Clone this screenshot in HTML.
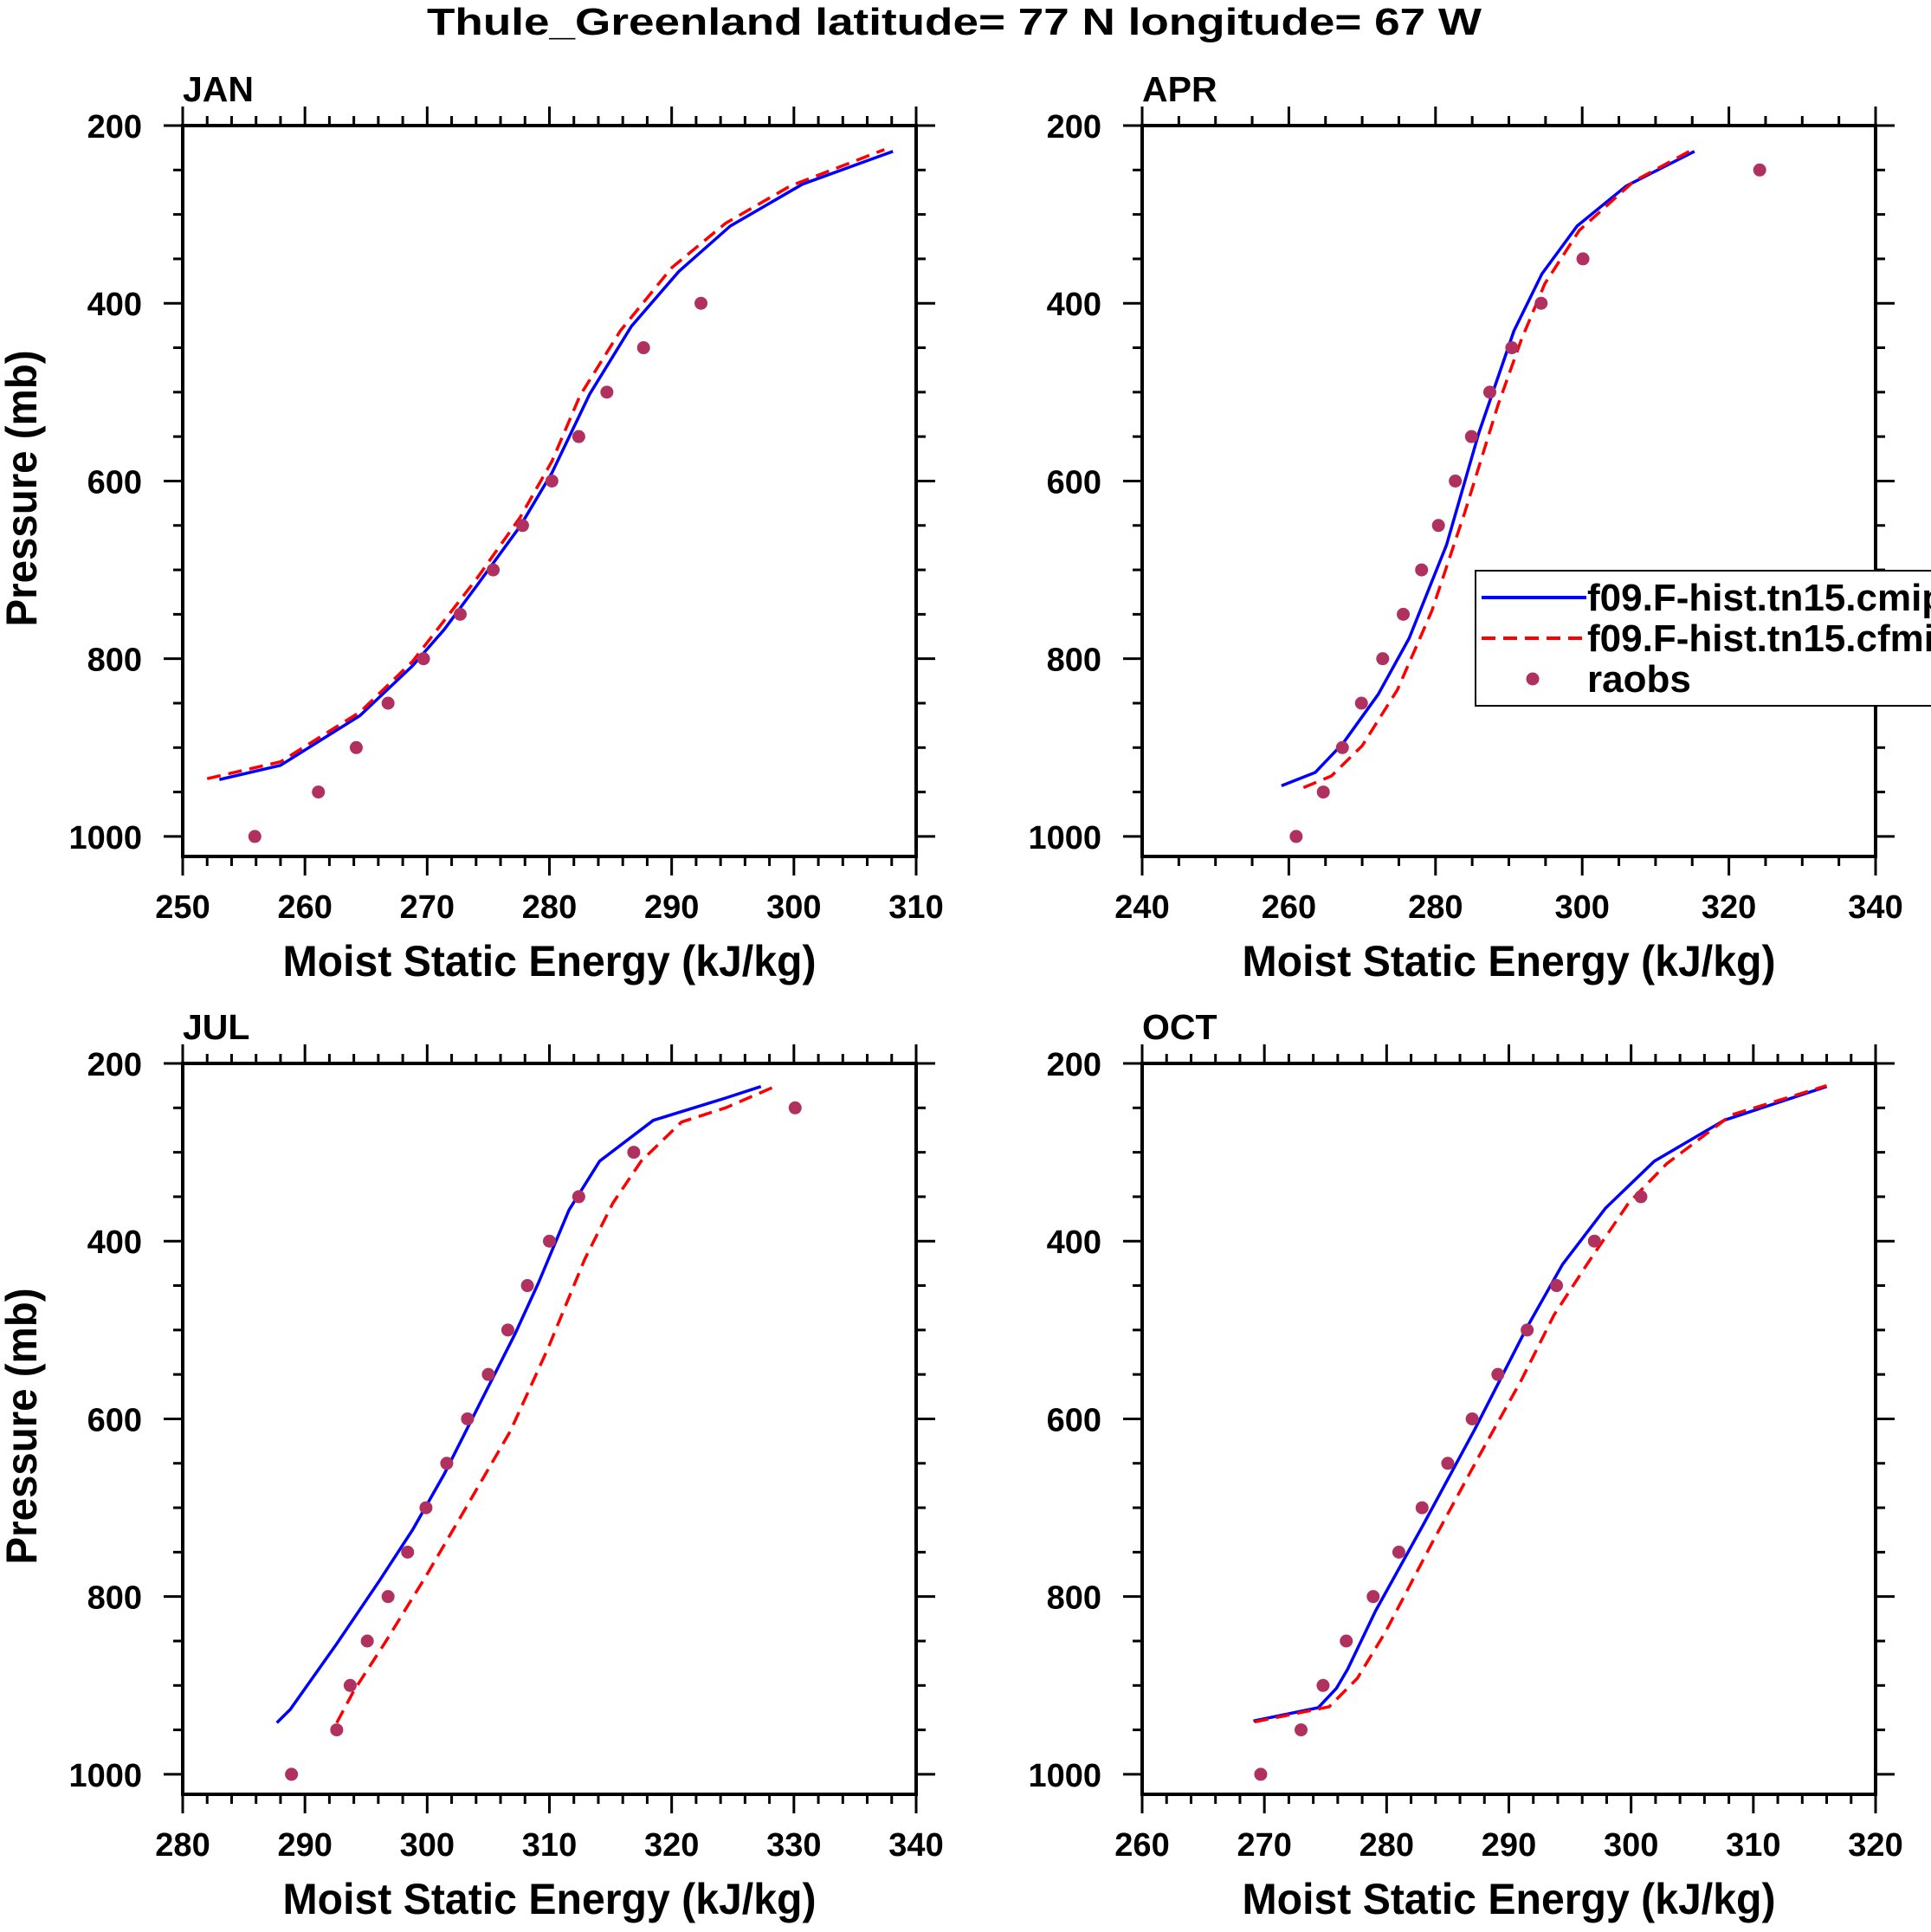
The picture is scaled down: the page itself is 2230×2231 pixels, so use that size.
<!DOCTYPE html>
<html><head><meta charset="utf-8"><style>
html,body{margin:0;padding:0;background:#fff;}
svg{display:block;font-family:"Liberation Sans",sans-serif;font-weight:bold;}
</style></head><body>
<svg id="c" width="2230" height="2231" viewBox="0 0 2230 2231" xmlns="http://www.w3.org/2000/svg">
<text x="1102" y="40" font-size="44" text-anchor="middle" textLength="1218" lengthAdjust="spacingAndGlyphs">Thule_Greenland  latitude= 77 N longitude= 67 W</text>
</svg>
<script>
// JAN data
const janBlueX=[253.0,258.0,264.5,268.8,271.4,274.1,277.6,280.2,283.3,286.7,290.6,294.8,300.7,308.1];
const janBlueP=[936,920,864,808,767,717,651,591,502,426,364,313,266,229];
const janRedX=[252.0,258.0,264.5,268.8,274.1,277.6,280.2,282.5,285.8,290.0,294.4,299.7,307.4];
const janRedP=[935,916,860,803,709,641,578,504,431,360,310,268,227];
const janObsX=[255.9,261.1,264.2,266.8,269.7,272.7,275.4,277.8,280.2,282.4,284.7,287.7,292.4];
const janObsP=[1000,950,900,850,800,750,700,650,600,550,500,450,400];
// APR data
const aprBlueX=[259.0,263.6,267.4,272.2,276.4,281.5,285.9,290.7,294.5,299.3,306.0,315.3];
const aprBlueP=[943,928,895,840,777,672,546,431,367,313,268,229];
const aprRedX=[262.0,265.8,270.0,274.8,279.5,284.0,288.5,291.7,294.9,299.6,307.0,314.6];
const aprRedP=[945,932,898,835,746,635,515,441,378,318,263,229];
const aprObsX=[261.0,264.7,267.3,269.9,272.8,275.6,278.1,280.4,282.7,284.9,287.4,290.4,294.4,300.1,324.2];
const aprObsP=[1000,950,900,850,800,750,700,650,600,550,500,450,400,350,250];
// JUL data
const julBlueX=[287.7,288.8,292.6,296.1,298.8,301.4,304.3,307.2,309.1,311.6,314.1,318.5,324.4,327.3];
const julBlueP=[942,927,853,782,725,662,583,504,447,365,310,264,239,226];
const julRedX=[292.6,294.0,296.5,299.9,303.0,306.8,309.9,312.9,315.2,317.5,320.8,324.4,328.6];
const julRedP=[942,906,853,777,704,614,520,420,357,310,266,250,225];
const julObsX=[288.9,292.6,293.7,295.1,296.8,298.4,299.9,301.6,303.3,305.0,306.6,308.2,310.0,312.4,316.9,330.1];
const julObsP=[1000,950,900,850,800,750,700,650,600,550,500,450,400,350,300,250];
// OCT data
const octBlueX=[269.1,274.4,275.9,276.8,279.1,283.0,287.2,291.4,294.4,297.9,301.9,307.6,316.0];
const octBlueP=[940,925,903,882,816,719,612,499,426,363,310,264,226];
const octRedX=[269.2,275.3,277.6,279.9,283.7,287.6,291.0,293.7,296.4,299.8,302.9,308.2,316.0];
const octRedP=[941,924,892,840,740,641,557,483,426,357,313,258,225];
const octObsX=[269.7,273.0,274.8,276.7,278.9,281.0,282.9,285.0,287.0,289.1,291.5,293.9,297.0,300.8];
const octObsP=[1000,950,900,850,800,750,700,650,600,550,500,450,400,350];
// axis ranges & ticks
const janXTicks=[250,260,270,280,290,300,310];
const aprXTicks=[240,260,280,300,320,340];
const julXTicks=[280,290,300,310,320,330,340];
const octXTicks=[260,270,280,290,300,310,320];
const yTicks=[200,400,600,800,1000];

const NS="http://www.w3.org/2000/svg";
const svg=document.getElementById('c');
function mk(t,a,parent){const e=document.createElementNS(NS,t);for(const k in a)e.setAttribute(k,a[k]);(parent||svg).appendChild(e);return e;}

const panels=[
 {id:'jan',lab:'JAN',L:211,T:145,xmin:250,xmax:310,minor:2,xt:janXTicks,bx:janBlueX,bp:janBlueP,rx:janRedX,rp:janRedP,ox:janObsX,op:janObsP},
 {id:'apr',lab:'APR',L:1319,T:145,xmin:240,xmax:340,minor:5,xt:aprXTicks,bx:aprBlueX,bp:aprBlueP,rx:aprRedX,rp:aprRedP,ox:aprObsX,op:aprObsP},
 {id:'jul',lab:'JUL',L:211,T:1228,xmin:280,xmax:340,minor:2,xt:julXTicks,bx:julBlueX,bp:julBlueP,rx:julRedX,rp:julRedP,ox:julObsX,op:julObsP},
 {id:'oct',lab:'OCT',L:1319,T:1228,xmin:260,xmax:320,minor:2,xt:octXTicks,bx:octBlueX,bp:octBlueP,rx:octRedX,rp:octRedP,ox:octObsX,op:octObsP}
];
const W=847,H=844,PMIN=200,PMAX=1022.5;
panels.forEach(p=>{
 const g=mk('g',{});
 
 
 const sx=v=>p.L+(v-p.xmin)/(p.xmax-p.xmin)*W;
 const sy=v=>p.T+(v-PMIN)/(PMAX-PMIN)*H;
 const R=p.L+W,B=p.T+H;
 const lt=mk('text',{x:p.L,y:p.T-28,'font-size':41},g);lt.textContent=p.lab;
 
 
 const tk=mk('g',{stroke:'#000','stroke-width':3},g);
 
 
 for(let v=p.xmin;v<=p.xmax+1e-6;v+=p.minor){
  const major=p.xt.some(t=>Math.abs(t-v)<1e-6);const len=major?22:11;const x=sx(v);
  mk('line',{x1:x,y1:B,x2:x,y2:B+len},tk);mk('line',{x1:x,y1:p.T,x2:x,y2:p.T-len},tk);
 }
 for(let v=200;v<=1000;v+=50){
  const major=v%200===0;const len=major?22:11;const y=sy(v);
  mk('line',{x1:p.L,y1:y,x2:p.L-len,y2:y},tk);mk('line',{x1:R,y1:y,x2:R+len,y2:y},tk);
 }
 const fr=mk('rect',{x:p.L,y:p.T,width:W,height:H,fill:'none',stroke:'#000','stroke-width':4},g);
 
 
 p.xt.forEach(v=>{const t=mk('text',{x:sx(v),y:B+71,'font-size':38,'text-anchor':'middle'},g);t.textContent=v;
  
  });
 yTicks.forEach(v=>{const t=mk('text',{x:p.L-47,y:sy(v)+14,'font-size':38,'text-anchor':'end'},g);t.textContent=v;
  
  });
 const xt=mk('text',{x:p.L+W/2,y:B+138,'font-size':50,'text-anchor':'middle',textLength:616,lengthAdjust:'spacingAndGlyphs'},g);
 xt.textContent='Moist Static Energy (kJ/kg)';
 
 
 if(p.L<500){
  const cy=p.T+H/2-3;
  const yt=mk('text',{x:42,y:cy,'font-size':50,'text-anchor':'middle',transform:`rotate(-90 42 ${cy})`,textLength:319,lengthAdjust:'spacingAndGlyphs'},g);
  yt.textContent='Pressure (mb)';
  
  
 }
 const pts=(X,P)=>X.map((v,i)=>sx(v).toFixed(1)+','+sy(P[i]).toFixed(1)).join(' ');
 const bl=mk('polyline',{points:pts(p.bx,p.bp),fill:'none',stroke:'#0000ff','stroke-width':3.5,'stroke-linejoin':'round'},g);
 
 
 const rl=mk('polyline',{points:pts(p.rx,p.rp),fill:'none',stroke:'#ff0000','stroke-width':3.5,'stroke-dasharray':'16,9'},g);
 
 
 p.ox.forEach((v,i)=>{const c=mk('circle',{cx:sx(v),cy:sy(p.op[i]),r:7.5,fill:'#b03060'},g);
  
  });
});
// legend
const lg=mk('g',{});


mk('rect',{x:1704,y:659,width:540,height:156,fill:'#fff',stroke:'#000','stroke-width':2},lg);
mk('line',{x1:1711,y1:690,x2:1832,y2:690,stroke:'#0000ff','stroke-width':4},lg);
mk('line',{x1:1711,y1:737,x2:1832,y2:737,stroke:'#ff0000','stroke-width':4,'stroke-dasharray':'16,9'},lg);
mk('circle',{cx:1770,cy:784,r:7.5,fill:'#b03060'},lg);
[['f09.F-hist.tn15.cmip6',705],['f09.F-hist.tn15.cfmip',752],['raobs',799]].forEach(([s,y])=>{
 const t=mk('text',{x:1833,y:y,'font-size':44},lg);t.textContent=s;
 
 
});
</script>
</body></html>
